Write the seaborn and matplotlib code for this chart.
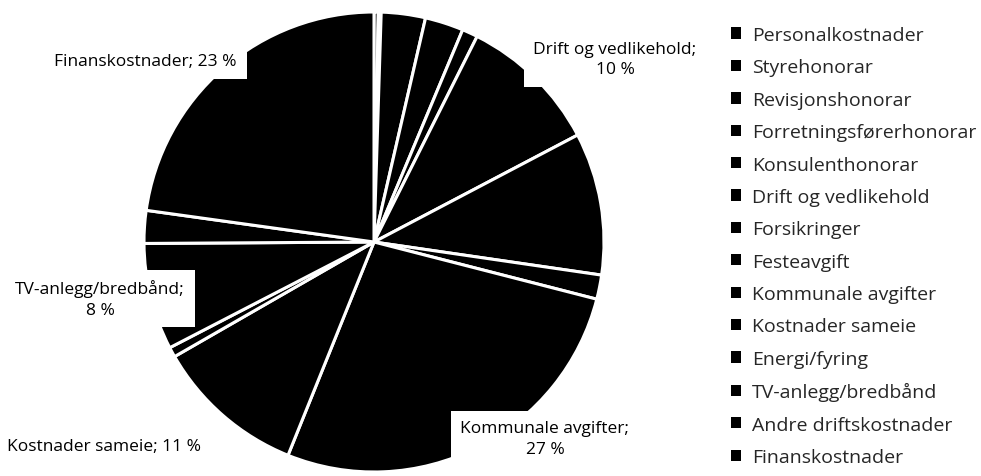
import matplotlib
matplotlib.use("Agg")
import matplotlib.pyplot as plt
from matplotlib.patches import Patch
import seaborn as sns

categories = ["Personalkostnader", "Styrehonorar", "Revisjonshonorar",
              "Forretningsførerhonorar", "Konsulenthonorar", "Drift og vedlikehold",
              "Forsikringer", "Festeavgift", "Kommunale avgifter", "Kostnader sameie",
              "Energi/fyring", "TV-anlegg/bredbånd", "Andre driftskostnader",
              "Finanskostnader"]
shares = [0.3, 0.2, 3.1, 2.7, 1.1, 9.9, 10.0, 1.7, 27.1, 10.6, 0.7, 7.5, 2.3, 22.8]

# only some slices carry a data label in the original
label_text = {
    "Finanskostnader": "Finanskostnader; 23 %",
    "Drift og vedlikehold": "Drift og vedlikehold;\n10 %",
    "TV-anlegg/bredbånd": "TV-anlegg/bredbånd;\n8 %",
    "Kostnader sameie": "Kostnader sameie; 11 %",
    "Kommunale avgifter": "Kommunale avgifter;\n27 %",
}
label_pos = {
    "Finanskostnader": (-0.993, 0.785),
    "Drift og vedlikehold": (1.048, 0.796),
    "TV-anlegg/bredbånd": (-1.191, -0.246),
    "Kostnader sameie": (-1.174, -0.887),
    "Kommunale avgifter": (0.743, -0.854),
}

sns.set_style("white")
plt.rcParams['font.family'] = ['Open Sans', 'DejaVu Sans']

W, H = 981, 477
fig = plt.figure(figsize=(W / 100, H / 100), dpi=100)
cx, cy, r = 374, 243, 230
ax = fig.add_axes([(cx - r) / W, (H - cy - r) / H, 2 * r / W, 2 * r / H])

wedges, _ = ax.pie(shares, colors=["black"] * len(shares), startangle=90,
                   counterclock=False, radius=1,
                   wedgeprops=dict(edgecolor="white", linewidth=2.2))
ax.set_xlim(-1, 1)
ax.set_ylim(-1, 1)
ax.set_aspect("equal")
ax.axis("off")

for name, txt in label_text.items():
    x, y = label_pos[name]
    ax.text(x, y, txt, ha="center", va="center", fontsize=12.5, color="black",
            linespacing=1.35, clip_on=False,
            bbox=dict(facecolor="white", edgecolor="none", pad=7))

handles = [Patch(facecolor="black", edgecolor="none") for _ in categories]
leg = fig.legend(handles, categories, loc="upper left",
                 bbox_to_anchor=(731 / W, 1 - 27 / H), frameon=False,
                 borderpad=0, borderaxespad=0,
                 fontsize=14, handlelength=0.52, handleheight=0.52,
                 handletextpad=0.57, labelspacing=0.74)

fig.savefig("out.png", dpi=100)
